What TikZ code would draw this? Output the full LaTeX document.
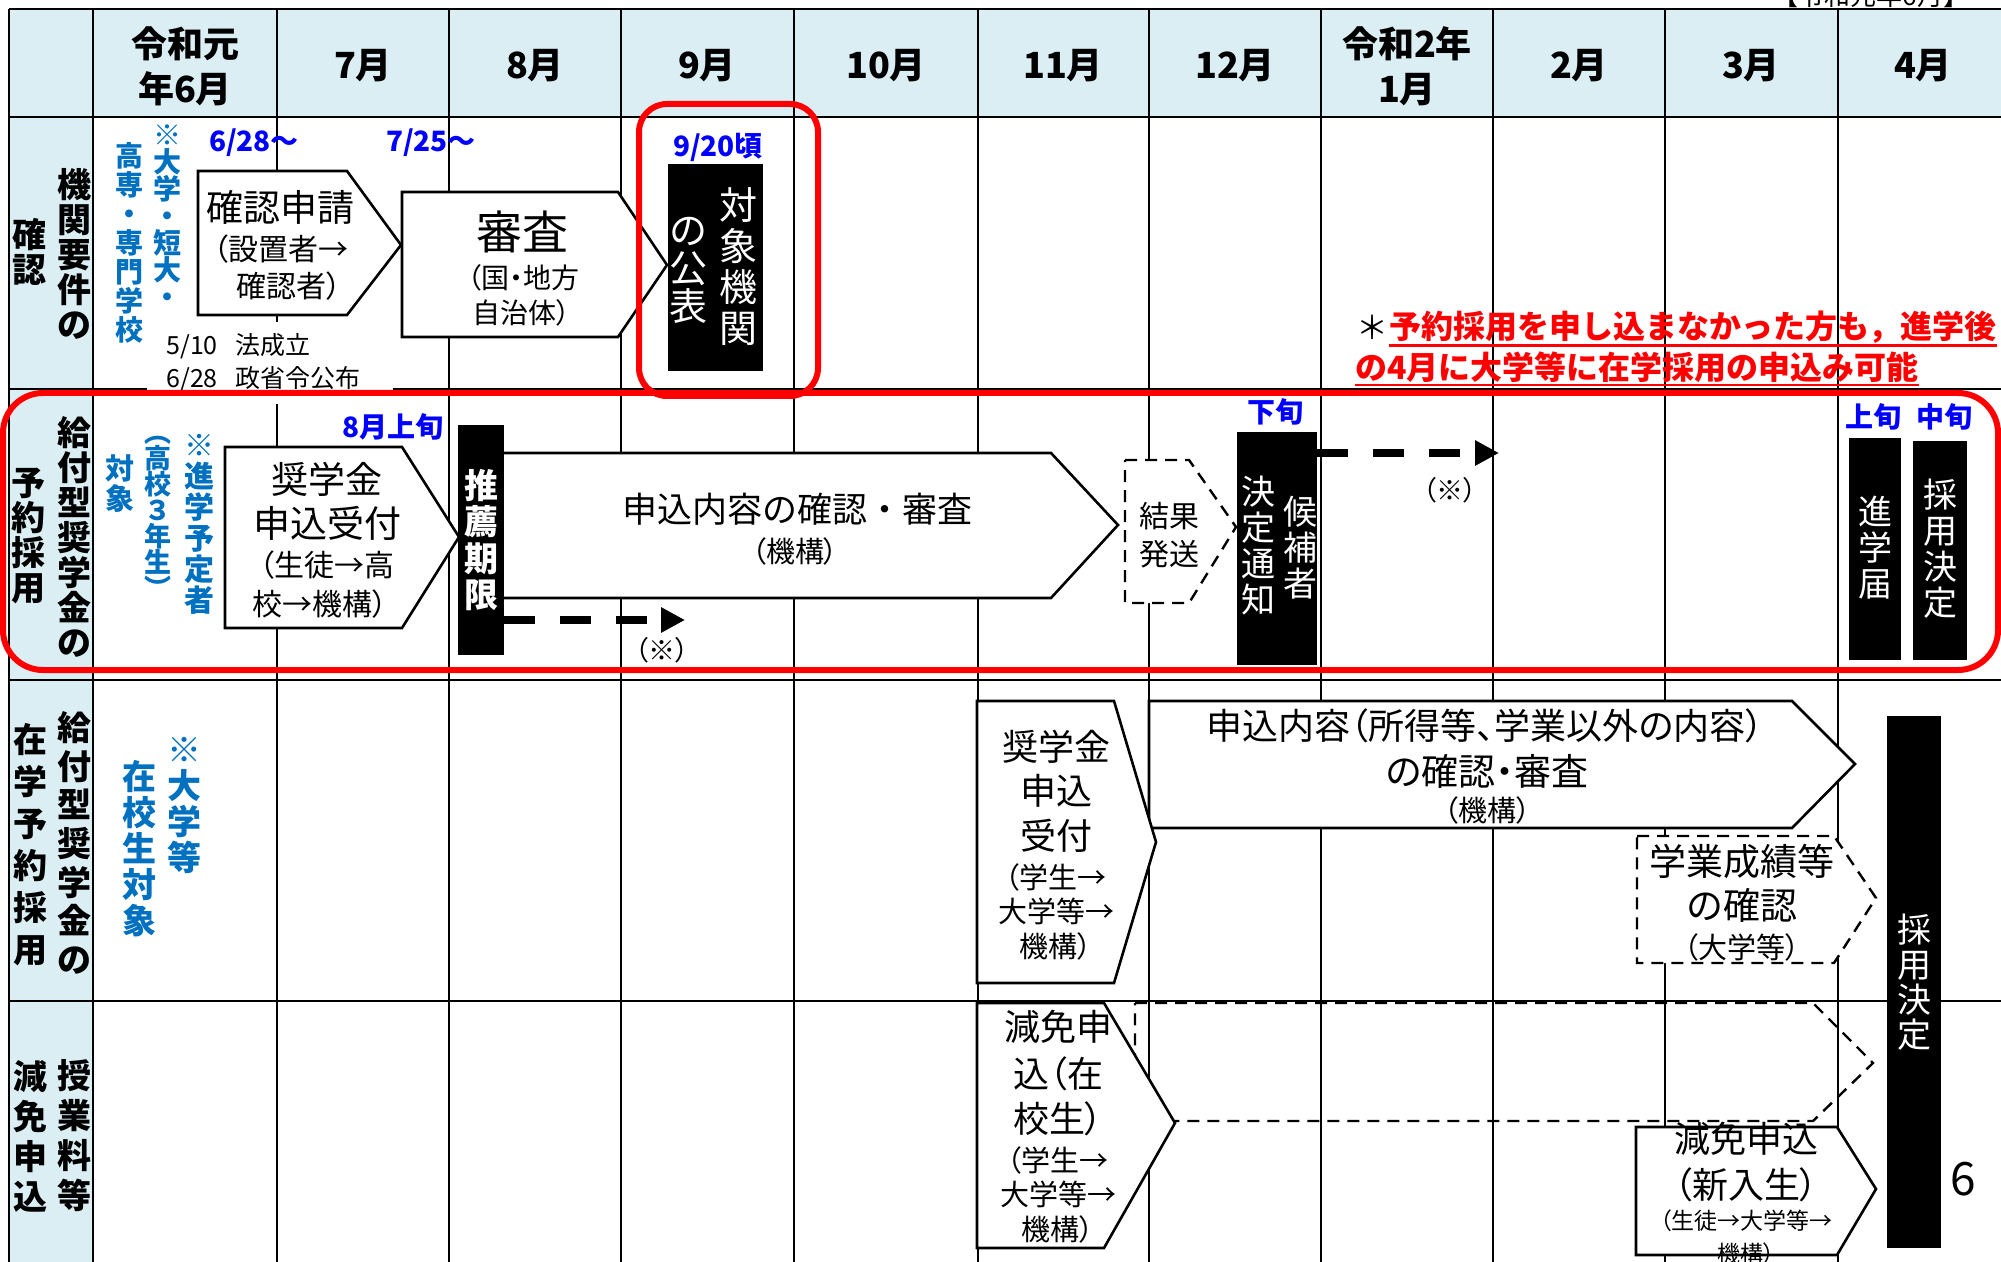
\documentclass[tikz,border=0pt]{standalone}
\usepackage{fontspec}
\setmainfont{Noto Sans CJK JP}
\newfontfamily\pf{Noto Sans CJK JP}[RawFeature=+palt]
\usetikzlibrary{arrows.meta}
\definecolor{hdrbg}{HTML}{DAEEF3}
\definecolor{nblue}{HTML}{0070C0}
\definecolor{dblue}{HTML}{0000FF}
\definecolor{nred}{HTML}{FF0000}
\newcommand{\fs}[2]{\fontsize{#1}{#2}\selectfont}
\begin{document}
\begin{tikzpicture}[x=0.5pt,y=-0.5pt,
 gridline/.style={line width=1.2pt, black},
 box/.style={draw=black, line width=1.3pt, fill=white, line join=miter},
 dbox/.style={draw=black, line width=1.2pt, dash pattern=on 6pt off 4pt, fill=white},
 dboxnf/.style={draw=black, line width=1.2pt, dash pattern=on 6pt off 4pt},
 blackbar/.style={fill=black, draw=none, inner sep=0pt},
 txt/.style={inner sep=0pt, align=center},
 wtxt/.style={txt, text=white},
 hdr/.style={txt, font=\bfseries\fs{18}{22.5}},
 rowlbl/.style={txt, font=\bfseries\fs{17}{17.5}},
 bnote/.style={txt, text=nblue},
 bdate/.style={txt, text=dblue, font=\bfseries\fs{14}{14}},
 bigt/.style={txt, font=\fs{18.5}{22}},
 smallt/.style={txt, font=\pf\fs{14.5}{18}},
 redbox/.style={draw=nred, line width=3pt},
 darrow/.style={line width=4pt, dash pattern=on 15.5pt off 12.5pt, -{Triangle[length=12pt,width=12pt]}}
]
\useasboundingbox (0,0) rectangle (2001,1262);
\begin{scope}
\clip (0,0) rectangle (2001,1262);
\fill[white] (0,0) rectangle (2001,1262);
% backgrounds
\fill[hdrbg] (9,9) rectangle (2001,117);
\fill[hdrbg] (9,117) rectangle (93,1262);
% grid
\foreach \yy in {9,117,389,680,1001} \draw[gridline] (9,\yy) -- (2001,\yy);
\foreach \xx in {9,93,277,449,621,794,978,1149,1321,1493,1665,1838} \draw[gridline] (\xx,9) -- (\xx,1262);

% top-right caption (cut off)
\node[txt, font=\fs{13}{13}] (cap) at (1871,-4) {【令和元年6月】};

% header
\node[hdr] (h0) at (185,66) {令和元\\年6月};
\node[hdr] (h1) at (363,66) {7月};
\node[hdr] (h2) at (535,66) {8月};
\node[hdr] (h3) at (707,66) {9月};
\node[hdr] (h4) at (886,66) {10月};
\node[hdr] (h5) at (1063,66) {11月};
\node[hdr] (h6) at (1235,66) {12月};
\node[hdr] (h7) at (1407,66) {令和2年\\1月};
\node[hdr] (h8) at (1579,66) {2月};
\node[hdr] (h9) at (1751,66) {3月};
\node[hdr] (h10) at (1923,66) {4月};

% row labels
\node[rowlbl] (l1a) at (74,254) {機\\関\\要\\件\\の};
\node[rowlbl] (l1b) at (29,252) {確\\認};
\node[rowlbl] (l2a) at (74,537) {給\\付\\型\\奨\\学\\金\\の};
\node[rowlbl] (l2b) at (28,536) {予\\約\\採\\用};
\node[rowlbl, font=\bfseries\fs{17}{19.3}] (l3a) at (74,843) {給\\付\\型\\奨\\学\\金\\の};
\node[rowlbl, font=\bfseries\fs{17}{21}] (l3b) at (30,845) {在\\学\\予\\約\\採\\用};
\node[rowlbl, font=\bfseries\fs{17}{20}] (l4a) at (74,1136) {授\\業\\料\\等};
\node[rowlbl, font=\bfseries\fs{17}{20}] (l4b) at (30,1136) {減\\免\\申\\込};

% blue notes
\node[bnote, anchor=north, font=\bfseries\fs{14}{13.5}] (n1a) at (167,124) {※\\大\\学\\・\\短\\大\\・};
\node[bnote, anchor=north, font=\bfseries\fs{14}{14.5}] (n1b) at (129,142) {高\\専\\・\\専\\門\\学\\校};
\node[bnote, anchor=north, font=\bfseries\fs{15}{15.5}] (n2a) at (199,434) {※\\進\\学\\予\\定\\者};
\node[bnote, anchor=north, font=\bfseries\fs{13.5}{13}] (n2b) at (158,436) {︵\\高\\校\\３\\年\\生\\︶};
\node[bnote, anchor=north, font=\bfseries\fs{14.5}{15}] (n2c) at (120,454) {対\\象};
\node[bnote, anchor=north, font=\bfseries\fs{17}{18}] (n3a) at (184,737) {※\\大\\学\\等};
\node[bnote, anchor=north, font=\bfseries\fs{17}{18}] (n3b) at (139,760) {在\\校\\生\\対\\象};

% dates
\node[bdate] (d1) at (254,143) {6/28～};
\node[bdate] (d2) at (431,143) {7/25～};
\node[bdate] (d3) at (718,147) {9/20頃};
\node[bdate] (d4) at (393,427) {8月上旬};
\node[bdate] (d5) at (1275,412) {下旬};
\node[bdate] (d6) at (1873,417) {上旬};
\node[bdate] (d7) at (1944,417) {中旬};

% law dates with white backing
\fill[white] (147,322) rectangle (393,404);
\node[txt, anchor=west, font=\fs{12.5}{12.5}] (law1) at (166,346) {5/10\hspace{9pt}法成立};
\node[txt, anchor=west, font=\fs{12.5}{12.5}] (law2) at (166,379) {6/28\hspace{9pt}政省令公布};

% row 1 boxes
\draw[box] (198,171) -- (347,171) -- (401,245) -- (347,315) -- (198,315) -- cycle;
\node[bigt] (t1a) at (280,207) {確認申請};
\node[txt, font=\pf\fs{15}{15}] (t1b) at (281,249) {（設置者→};
\node[txt, font=\pf\fs{15}{15}] (t1c) at (289,286) {確認者）};
\draw[box] (402,192) -- (618,192) -- (667,265) -- (618,337) -- (402,337) -- cycle;
\node[txt, font=\fs{23}{23}] (t2a) at (522,232) {審査};
\node[txt, font=\pf\fs{14}{14}] (t2b) at (523,278) {（国・地方};
\node[txt, font=\pf\fs{14}{14}] (t2c) at (521,313) {自治体）};
\node[blackbar, minimum width=47.5pt, minimum height=103.5pt] (pub) at (715.5,267.5) {};
\node[wtxt, font=\fs{19}{20.5}] (pubA) at (738,267) {対\\象\\機\\関};
\node[wtxt, font=\fs{19}{19}] (pubB) at (688,270) {の\\公\\表};

% red note
\node[txt, font=\fs{16}{16}] (star) at (1372,327) {＊};
\node[txt, anchor=west, text=nred, font=\bfseries\fs{16}{16}] (rn1) at (1389,327) {予約採用を申し込まなかった方も，進学後};
\node[txt, anchor=west, text=nred, font=\bfseries\fs{16}{16}] (rn2) at (1355,367) {の4月に大学等に在学採用の申込み可能};
\draw[nred, line width=1.3pt] ([yshift=-1pt]rn1.south west) -- ([yshift=-1pt]rn1.south east);
\draw[nred, line width=1.3pt] ([yshift=-1pt]rn2.south west) -- ([yshift=-1pt]rn2.south east);

% row 2 boxes
\draw[box] (225,447) -- (402,447) -- (459,537) -- (402,628) -- (225,628) -- cycle;
\node[bigt] (t3a) at (327,479) {奨学金};
\node[bigt] (t3b) at (327,523) {申込受付};
\node[txt, font=\pf\fs{15}{15}] (t3c) at (327,565) {（生徒→高};
\node[txt, font=\pf\fs{15}{15}] (t3d) at (320,604) {校→機構）};
\draw[box] (500,453) -- (1051,453) -- (1118,525) -- (1051,598) -- (500,598) -- cycle;
\node[txt, font=\fs{17.5}{17.5}] (t4a) at (797,509) {申込内容の確認・審査};
\node[smallt] (t4b) at (795,551) {（機構）};
\draw[dbox] (1125,460) -- (1189,460) -- (1236,527) -- (1189,603) -- (1125,603) -- cycle;
\node[txt, font=\fs{15}{15}] (t5a) at (1169,516) {結果};
\node[txt, font=\fs{15}{15}] (t5b) at (1169,554) {発送};
\node[blackbar, minimum width=23pt, minimum height=115pt] (suisen) at (481,540) {};
\node[wtxt, font=\bfseries\fs{17}{18.25}] (suisenT) at (481,540) {推\\薦\\期\\限};
\node[blackbar, minimum width=40pt, minimum height=116.5pt] (kettei) at (1277,548.5) {};
\node[wtxt, font=\fs{17}{18}] (ketteiA) at (1300,548) {候\\補\\者};
\node[wtxt, font=\fs{17}{18}] (ketteiB) at (1258,546) {決\\定\\通\\知};
\node[blackbar, minimum width=26pt, minimum height=111pt] (shingaku) at (1875,549) {};
\node[wtxt, font=\fs{17}{18}] (shingakuT) at (1875,548) {進\\学\\届};
\node[blackbar, minimum width=27pt, minimum height=109.5pt] (saiyo1) at (1940,550.5) {};
\node[wtxt, font=\fs{17}{18}] (saiyo1T) at (1940,549) {採\\用\\決\\定};
\coordinate (a1) at (685,620);
\coordinate (a2) at (1499,453);
\draw[darrow] (suisen.east |- a1) -- (a1);
\draw[darrow] (kettei.east |- a2) -- (a2);
\node[txt, font=\pf\fs{13.5}{13.5}] (x1) at (662,650) {（※）};
\node[txt, font=\pf\fs{13.5}{13.5}] (x2) at (1450,490) {（※）};

% row 3 boxes
\draw[box] (1149,701) -- (1792,701) -- (1855,764) -- (1792,828) -- (1149,828) -- cycle;
\node[txt, font=\pf\fs{18}{18}] (t7a) at (1485,726) {申込内容（所得等、学業以外の内容）};
\node[txt, font=\pf\fs{18.5}{18.5}] (t7b) at (1487,771) {の確認・審査};
\node[smallt] (t7c) at (1487,810) {（機構）};
\draw[box] (977,701) -- (1114,701) -- (1156,842) -- (1114,983) -- (977,983) -- cycle;
\node[txt, font=\fs{18}{18}] (t6a) at (1056,747) {奨学金};
\node[txt, font=\fs{18}{18}] (t6b) at (1056,791) {申込};
\node[txt, font=\fs{18}{18}] (t6c) at (1056,836) {受付};
\node[smallt] (t6d) at (1056,877) {（学生→};
\node[smallt] (t6e) at (1056,911) {大学等→};
\node[smallt] (t6f) at (1056,946) {機構）};
\draw[dbox] (1637,836) -- (1834,836) -- (1876,898) -- (1834,963) -- (1637,963) -- cycle;
\node[txt, font=\fs{18.5}{18.5}] (t8a) at (1742,861) {学業成績等};
\node[txt, font=\fs{18.5}{18.5}] (t8b) at (1742,905) {の確認};
\node[smallt] (t8c) at (1742,947) {（大学等）};

% row 4 boxes
\draw[dboxnf] (1135,1003) -- (1813,1003) -- (1873,1063) -- (1813,1121) -- (1135,1121) -- cycle;
\draw[box] (977,1003) -- (1104,1003) -- (1175,1123) -- (1104,1248) -- (977,1248) -- cycle;
\node[txt, font=\pf\fs{18}{18}] (t10a) at (1058,1027) {減免申};
\node[txt, font=\pf\fs{18}{18}] (t10b) at (1058,1074) {込（在};
\node[txt, font=\pf\fs{18}{18}] (t10c) at (1058,1119) {校生）};
\node[smallt] (t10d) at (1058,1160) {（学生→};
\node[smallt] (t10e) at (1058,1194) {大学等→};
\node[smallt] (t10f) at (1058,1229) {機構）};
\draw[box] (1636,1127) -- (1837,1127) -- (1876,1189) -- (1837,1255) -- (1636,1255) -- cycle;
\node[txt, font=\fs{18}{18}] (t11a) at (1746,1139) {減免申込};
\node[txt, font=\pf\fs{18}{18}] (t11b) at (1746,1185) {（新入生）};
\node[txt, font=\pf\fs{11.5}{11.5}] (t11c) at (1746,1221) {（生徒→大学等→};
\node[txt, font=\pf\fs{11.5}{11.5}] (t11d) at (1746,1254) {機構）};
\node[blackbar, minimum width=27pt, minimum height=266pt] (saiyo2) at (1914,982) {};
\node[wtxt, font=\fs{17}{17.5}] (saiyo2T) at (1914,982) {採\\用\\決\\定};
\node[txt, font=\fs{23}{23}] (six) at (1963,1179) {6};

% red frames
\draw[redbox, rounded corners=14pt] (639,104) rectangle (818,396);
\draw[redbox, rounded corners=20pt] (3,393) rectangle (1998,670);
\end{scope}
\end{tikzpicture}
\end{document}
